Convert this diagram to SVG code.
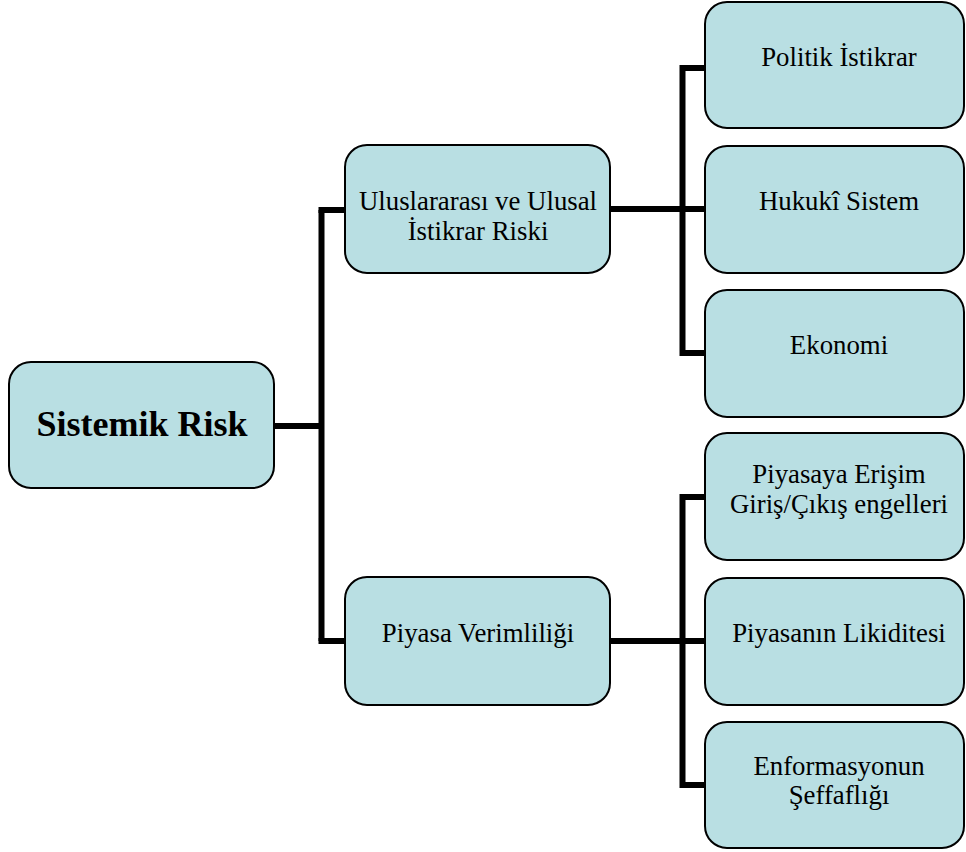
<svg xmlns="http://www.w3.org/2000/svg" width="966" height="852" viewBox="0 0 966 852">
<style>
.box{fill:#B9DFE3;stroke:#000;stroke-width:2}
.t{font-family:"Liberation Serif","Times New Roman",serif;font-size:26.8px;fill:#000;text-anchor:middle}
.b{font-size:36px;font-weight:bold}
.c{fill:none;stroke:#000;stroke-width:6;stroke-linecap:butt;stroke-linejoin:miter}
</style>
<rect width="966" height="852" fill="#fff"/>
<g id="connectors">
<path class="c" d="M274,426 H321.5"/>
<path class="c" d="M321.5,210 V641"/>
<path class="c" d="M318.5,210 H345"/>
<path class="c" d="M318.5,641 H345"/>
<path class="c" d="M610,209 H705"/>
<path class="c" d="M705,68 H682.5 V353 H705"/>
<path class="c" d="M610,641 H705"/>
<path class="c" d="M705,497 H682.5 V785 H705"/>
</g>
<g id="n-sistemik">
<rect class="box" x="9" y="362" width="265" height="126" rx="22"/>
<text class="t b" x="142" y="436">Sistemik Risk</text>
</g>
<g id="n-uluslararasi">
<rect class="box" x="345" y="145" width="265" height="128" rx="22"/>
<text class="t" x="478" y="210">Uluslararası ve Ulusal</text>
<text class="t" x="478" y="240">İstikrar Riski</text>
</g>
<g id="n-piyasa">
<rect class="box" x="345" y="577" width="265" height="128" rx="22"/>
<text class="t" x="478" y="642">Piyasa Verimliliği</text>
</g>
<g id="n-politik">
<rect class="box" x="705" y="2" width="259" height="126" rx="22"/>
<text class="t" x="839" y="66">Politik İstikrar</text>
</g>
<g id="n-hukuki">
<rect class="box" x="705" y="146" width="259" height="127" rx="22"/>
<text class="t" x="839" y="210">Hukukî Sistem</text>
</g>
<g id="n-ekonomi">
<rect class="box" x="705" y="290" width="259" height="127" rx="22"/>
<text class="t" x="839" y="354">Ekonomi</text>
</g>
<g id="n-erisim">
<rect class="box" x="705" y="433" width="259" height="127" rx="22"/>
<text class="t" x="839" y="483">Piyasaya Erişim</text>
<text class="t" x="839" y="513">Giriş/Çıkış engelleri</text>
</g>
<g id="n-likidite">
<rect class="box" x="705" y="578" width="259" height="127" rx="22"/>
<text class="t" x="839" y="642">Piyasanın Likiditesi</text>
</g>
<g id="n-enformasyon">
<rect class="box" x="705" y="722" width="259" height="126" rx="22"/>
<text class="t" x="839" y="775">Enformasyonun</text>
<text class="t" x="839" y="804">Şeffaflığı</text>
</g>
</svg>
